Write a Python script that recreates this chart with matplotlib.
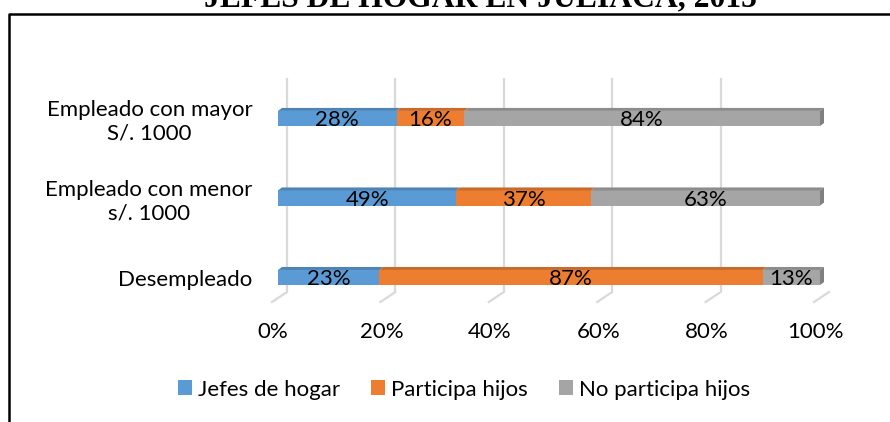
import numpy as np
import matplotlib.pyplot as plt
from matplotlib.patches import Polygon, Patch
from matplotlib.lines import Line2D
from matplotlib.transforms import ScaledTranslation, IdentityTransform
from matplotlib import colors as mcolors

plt.rcParams['font.family'] = ['Lato', 'DejaVu Sans']

# datos
categorias = ['Desempleado', 'Empleado con menor\ns/. 1000', 'Empleado con mayor\nS/. 1000']
series = ['Jefes de hogar', 'Participa hijos', 'No participa hijos']
jefes = [23, 49, 28]
participa = [87, 37, 16]
no_participa = [13, 63, 84]
colores = ['#5B9BD5', '#ED7D31', '#A5A5A5']
ticks = [0, 20, 40, 60, 80, 100]
titulo = 'JEFES DE HOGAR EN JULIACA, 2015'

W, H, DPI = 890, 422, 100
FS = 16

fig = plt.figure(figsize=(W / DPI, H / DPI), dpi=DPI)
ax = fig.add_axes([278 / W, 1 - 292 / H, 542 / W, 214 / H])
ax.set_xlim(0, 100)
ax.set_ylim(-0.182, 2.509)
for s in ax.spines.values():
    s.set_visible(False)

def off(dx, dy):
    return ScaledTranslation(dx / DPI, dy / DPI, fig.dpi_scale_trans)

# rejilla (pared del fondo + piso)
for v in ticks:
    ax.plot([v, v], [0, 1], color='#d9d9d9', lw=1.6, solid_capstyle='butt',
            transform=ax.get_xaxis_transform() + off(9, 0), zorder=0)
    x0, y0 = ax.transData.transform((v, ax.get_ylim()[0]))
    fig.add_artist(Line2D([x0 + 9, x0 - 6], [y0, y0 - 10], color='#d9d9d9', lw=1.6,
                          transform=IdentityTransform(), zorder=0))

# barras 100% apiladas
datos = np.array([jefes, participa, no_participa], dtype=float)
totales = datos.sum(axis=0)
pct = datos / totales * 100
y = np.arange(len(categorias))
alto = 0.19
izq = np.zeros(len(categorias))
dx, dy = 4, 3
for i, serie in enumerate(series):
    ax.barh(y, pct[i], left=izq, height=alto, color=colores[i], zorder=2)
    oscuro = np.array(mcolors.to_rgb(colores[i])) * 0.85
    for j in range(len(y)):
        a = ax.transData.transform((izq[j], y[j] + alto / 2))
        b = ax.transData.transform((izq[j] + pct[i][j], y[j] + alto / 2))
        fig.add_artist(Polygon([a, b, (b[0] + dx, b[1] + dy), (a[0] + dx, a[1] + dy)],
                               closed=True, facecolor=oscuro, edgecolor='none',
                               transform=IdentityTransform(), zorder=3))
        ax.text(izq[j] + pct[i][j] / 2, y[j], f'{int(datos[i][j])}%', ha='center',
                va='center', fontsize=FS, color='black', zorder=4,
                transform=ax.transData + off(0, -1.5))
    izq = izq + pct[i]

# cara lateral derecha
for j in range(len(y)):
    a = ax.transData.transform((100, y[j] - alto / 2))
    b = ax.transData.transform((100, y[j] + alto / 2))
    fig.add_artist(Polygon([a, b, (b[0] + dx, b[1] + dy), (a[0] + dx, a[1] + dy)],
                           closed=True, facecolor='#7f7f7f', edgecolor='none',
                           transform=IdentityTransform(), zorder=3))

# ejes
ax.set_yticks(y)
ax.set_yticklabels(categorias, fontsize=FS)
for lbl in ax.get_yticklabels():
    lbl.set_multialignment('center')
ax.tick_params(axis='y', length=0, pad=18.5)
ax.set_xticks([])
for v in ticks:
    ax.text(v, 0, f'{v}%', ha='center', va='baseline', fontsize=FS,
            transform=ax.get_xaxis_transform() + off(-5, -45.5))

# leyenda
handles = [Patch(facecolor=c, edgecolor='none') for c in colores]
fig.legend(handles, series, loc='center', bbox_to_anchor=(464 / W, 1 - 389.5 / H),
           ncol=3, frameon=False, fontsize=FS, handlelength=0.62, handleheight=0.62,
           handletextpad=0.28, columnspacing=1.4, borderaxespad=0)

# marco y titulo
fig.add_artist(Line2D([8.5, 8.5, W + 10], [-10, H - 14, H - 14], color='black', lw=1.8,
                      transform=IdentityTransform()))
fig.text(480.5 / W, 1 - 6 / H, titulo, ha='center', va='baseline', fontsize=22.8,
         fontweight='bold', family='Liberation Serif')

fig.savefig('out.png', dpi=DPI)
